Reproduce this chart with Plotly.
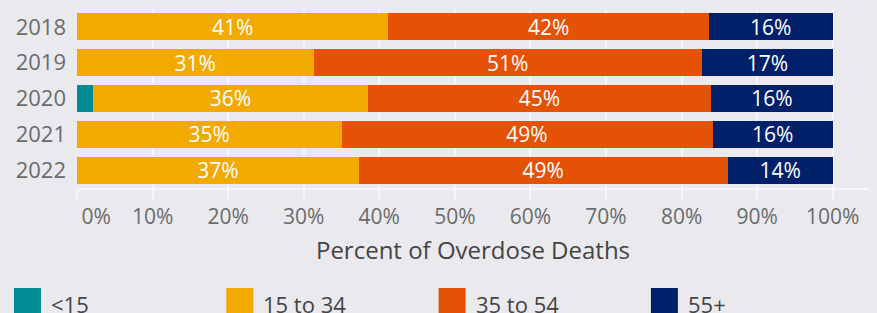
import plotly.graph_objects as go

years = ["2018", "2019", "2020", "2021", "2022"]
series_names = ["<15", "15 to 34", "35 to 54", "55+"]
under_15 = [0.0, 0.0, 2.1, 0.0, 0.0]
age_15_34 = [41.2, 31.3, 36.4, 35.0, 37.3]
age_35_54 = [42.4, 51.4, 45.4, 49.1, 48.8]
age_55_plus = [16.4, 17.3, 16.1, 15.9, 13.9]
series_values = [under_15, age_15_34, age_35_54, age_55_plus]
series_colors = ["#008C95", "#F2A900", "#E35205", "#002169"]
show_labels = [False, True, True, True]

tick_vals = [0, 10, 20, 30, 40, 50, 60, 70, 80, 90, 100]
tick_text = ["\u00a0" * 7 + "0%"] + [f"{v}%" for v in tick_vals[1:]]

FONT = "Open Sans"
BG = "#EAE9EE"
GRID = "#F6F6F8"

fig = go.Figure()
for name, vals, color, lab in zip(series_names, series_values, series_colors, show_labels):
    fig.add_trace(go.Bar(
        y=years, x=vals, name=name, orientation="h",
        marker=dict(color=color, line=dict(width=0)),
        texttemplate="%{x:.0f}%" if lab else None,
        textposition="inside" if lab else "none",
        insidetextanchor="middle",
        textfont=dict(color="white", size=21, family=FONT),
        showlegend=False,
    ))

W, H = 877, 313
ml, mr, mt, mb = 77, 8, 9, 125
pw, ph = W - ml - mr, H - mt - mb

def px_to_paper_x(px):
    return (px - ml) / pw

def px_to_paper_y(py):
    return (H - mb - py) / ph

shapes = []
annotations = []
leg_x0, leg_step, sq = 14, 212.3, 27
for i, (name, color) in enumerate(zip(series_names, series_colors)):
    x0 = leg_x0 + i * leg_step
    shapes.append(dict(type="rect", xref="paper", yref="paper",
                       x0=px_to_paper_x(x0), x1=px_to_paper_x(x0 + sq),
                       y0=px_to_paper_y(288), y1=px_to_paper_y(288 + sq),
                       fillcolor=color, line=dict(width=0), layer="above"))
    annotations.append(dict(xref="paper", yref="paper",
                            x=px_to_paper_x(x0 + sq + 8), y=px_to_paper_y(304),
                            xanchor="left", yanchor="middle", showarrow=False,
                            text=name, font=dict(size=22, color="#444444", family=FONT)))

fig.update_layout(
    barmode="stack", bargap=0.25,
    width=W, height=H,
    margin=dict(l=ml, r=mr, t=mt, b=mb),
    paper_bgcolor=BG, plot_bgcolor=BG,
    font=dict(family=FONT, size=21, color="#6B6B6B"),
    uniformtext=dict(minsize=21, mode="show"),
    shapes=shapes, annotations=annotations,
    showlegend=False,
)
fig.update_xaxes(
    range=[0, 104.8], tickvals=tick_vals, ticktext=tick_text,
    showgrid=True, gridcolor=GRID, gridwidth=2,
    ticks="outside", ticklen=9, tickwidth=2, tickcolor=GRID,
    showline=True, linecolor=GRID, linewidth=2,
    zeroline=False,
    tickfont=dict(size=21, color="#6B6B6B"),
    title=dict(text="Percent of Overdose Deaths", font=dict(size=24, color="#444444"), standoff=13),
)
fig.update_yaxes(
    autorange="reversed", showgrid=False, zeroline=False, ticks="",
    ticklabelstandoff=10,
    tickfont=dict(size=22, color="#6B6B6B"),
)

fig.write_html(
    "out.html",
    config={"displayModeBar": False},
    post_script="document.body.style.margin='0';document.body.style.background='" + BG + "';document.body.style.overflow='hidden';",
)
